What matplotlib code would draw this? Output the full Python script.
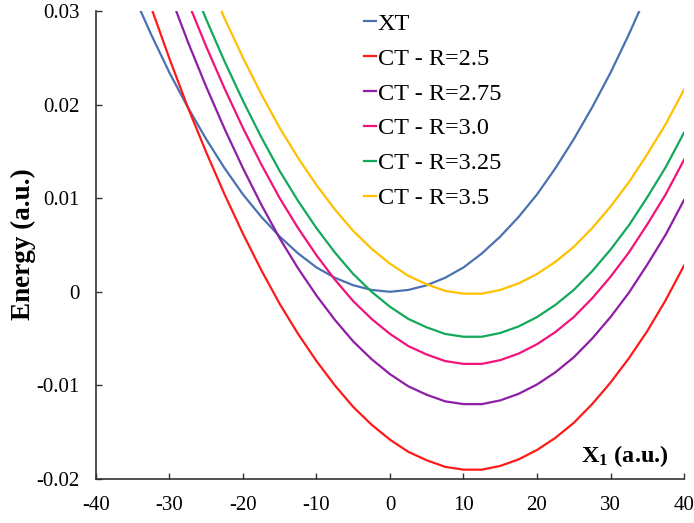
import matplotlib
matplotlib.use('Agg')
import matplotlib.pyplot as plt
import numpy as np

nan = np.nan

# X1 grid (a.u.), energies (a.u.)
x1 = [-40, -37.5, -35, -32.5, -30, -27.5, -25, -22.5, -20, -17.5, -15, -12.5,
      -10, -7.5, -5, -2.5, 0, 2.5, 5, 7.5, 10, 12.5, 15, 17.5, 20, 22.5,
      25, 27.5, 30, 32.5, 35, 37.5, 40]

e_xt = [nan, nan, 0.0319, 0.0275, 0.0234, 0.0197, 0.0163, 0.0132, 0.0104, 0.0080,
        0.0059, 0.0041, 0.0026, 0.0015, 0.0007, 0.0002, 0.0, 0.0002, 0.0007, 0.0015,
        0.0026, 0.0041, 0.0059, 0.0080, 0.0104, 0.0132, 0.0163, 0.0197, 0.0234,
        0.0275, 0.0319, nan, nan]
e_r250 = [nan, nan, 0.0363, 0.0304, 0.0249, 0.0197, 0.0149, 0.0104, 0.0062, 0.0023,
          -0.0013, -0.0045, -0.0074, -0.0100, -0.0123, -0.0142, -0.0158, -0.0171,
          -0.0180, -0.0187, -0.0190, -0.0190, -0.0186, -0.0179, -0.0169, -0.0156,
          -0.0140, -0.0120, -0.0097, -0.0071, -0.0042, -0.0009, 0.0028]
e_r275 = [nan, nan, nan, nan, 0.0319, 0.0267, 0.0219, 0.0174, 0.0132, 0.0093,
          0.0057, 0.0025, -0.0004, -0.0030, -0.0053, -0.0072, -0.0088, -0.0101,
          -0.0110, -0.0117, -0.0120, -0.0120, -0.0116, -0.0109, -0.0099, -0.0086,
          -0.0070, -0.0050, -0.0027, -0.0001, 0.0029, 0.0061, 0.0098]
e_r300 = [nan, nan, nan, nan, nan, 0.0310, 0.0262, 0.0217, 0.0175, 0.0136,
          0.0100, 0.0068, 0.0039, 0.0013, -0.0010, -0.0029, -0.0045, -0.0058,
          -0.0067, -0.0074, -0.0077, -0.0077, -0.0073, -0.0066, -0.0056, -0.0043,
          -0.0027, -0.0007, 0.0016, 0.0042, 0.0072, 0.0104, 0.0141]
e_r325 = [nan, nan, nan, nan, nan, 0.0339, 0.0291, 0.0246, 0.0204, 0.0165,
          0.0129, 0.0097, 0.0068, 0.0042, 0.0019, 0.0000, -0.0016, -0.0029,
          -0.0038, -0.0045, -0.0048, -0.0048, -0.0044, -0.0037, -0.0027, -0.0014,
          0.0002, 0.0022, 0.0045, 0.0071, 0.0101, 0.0133, 0.0170]
e_r350 = [nan, nan, nan, nan, nan, nan, 0.0337, 0.0292, 0.0250, 0.0211,
          0.0175, 0.0143, 0.0114, 0.0088, 0.0065, 0.0046, 0.0030, 0.0017,
          0.0008, 0.0001, -0.0002, -0.0002, 0.0002, 0.0009, 0.0019, 0.0032,
          0.0048, 0.0068, 0.0091, 0.0117, 0.0147, 0.0179, 0.0216]

labels = ['XT', 'CT - R=2.5', 'CT - R=2.75', 'CT - R=3.0', 'CT - R=3.25', 'CT - R=3.5']
colors = ['#4a72b0', '#ff1a1a', '#8e1ea6', '#f2137a', '#13a85a', '#ffc000']

plt.rcParams['font.family'] = 'Liberation Serif'
plt.rcParams['mathtext.fontset'] = 'custom'
plt.rcParams['mathtext.rm'] = 'Liberation Serif'
plt.rcParams['mathtext.bf'] = 'Liberation Serif:bold'

fig = plt.figure(figsize=(6.94, 5.23), dpi=100)
ax = fig.add_axes([0.1383, 0.0841, 0.8473, 0.8949])

series = [e_xt, e_r250, e_r275, e_r300, e_r325, e_r350]
for ys, lab, col in zip(series, labels, colors):
    ax.plot(x1, ys, color=col, lw=1.6, label=lab)

ax.set_xlim(-40, 40)
ax.set_ylim(-0.02, 0.03)
ax.set_xticks(range(-40, 41, 10))
ax.set_yticks([-0.02, -0.01, 0, 0.01, 0.02, 0.03])
ax.set_yticklabels(['-0.02', '-0.01', '0', '0.01', '0.02', '0.03'])
ax.set_xticklabels([str(v) for v in range(-40, 41, 10)])
ax.tick_params(direction='in', length=4.5, width=1, labelsize=15, pad=12, color='#333333')
for s in ['top', 'right']:
    ax.spines[s].set_visible(False)
for s in ['left', 'bottom']:
    ax.spines[s].set_linewidth(1.2)
    ax.spines[s].set_color('#333333')

fig.text(0.034, 0.533, 'Energy (a.u.)', rotation=90, fontsize=19.5, fontweight='bold',
         ha='center', va='center')
fig.text(0.963, 0.1166, r'$\mathbf{X_1}$ (a.u.)', fontsize=17.5, fontweight='bold',
         ha='right', va='baseline')

ax.legend(loc='upper left', bbox_to_anchor=(0.517, 0.985), bbox_transform=fig.transFigure,
          frameon=False, fontsize=17.5, handlelength=0.5, handletextpad=0.08,
          labelspacing=0.53, borderaxespad=0.0, borderpad=0.2)

plt.savefig('out.png', dpi=100)
